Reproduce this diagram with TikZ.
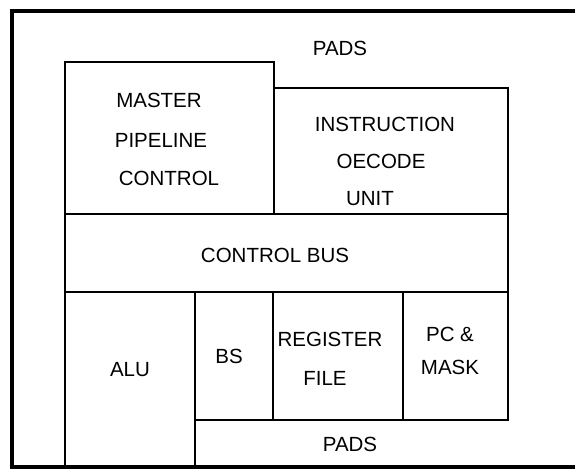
\documentclass[tikz,border=0pt]{standalone}
\usepackage{fontspec}
\setmainfont{Liberation Sans}
\begin{document}
\begin{tikzpicture}[x=1pt,y=-1pt,
  blk/.style={draw,line width=1.8pt,anchor=north west,inner sep=0pt,outer sep=0pt},
  lbl/.style={inner sep=0pt,font=\fontsize{20.5}{22}\selectfont}]
\useasboundingbox (0,0) rectangle (575,474);
% outer border (open on the right)
\coordinate (tr) at (575,11);
\coordinate (tl) at (12,11);
\coordinate (bl) at (12,467);
\coordinate (br) at (575,467);
\draw[line width=3.5pt] (tr) -- (tl) -- (bl) -- (br);
% blocks
\node[blk,minimum width=209pt,minimum height=152pt] (mpc) at (65,62) {};
\node[blk,minimum width=234pt,minimum height=126pt] (idu) at (274,88) {};
\node[blk,minimum width=443pt,minimum height=78pt] (cbus) at (65,214) {};
\node[blk,minimum width=130pt,minimum height=175pt] (alu) at (65,292) {};
\node[blk,minimum width=78pt,minimum height=128pt] (bs) at (195,292) {};
\node[blk,minimum width=130pt,minimum height=128pt] (rf) at (273,292) {};
\node[blk,minimum width=105pt,minimum height=128pt] (pc) at (403,292) {};
% labels
\node[lbl] (padsT) at (340,48) {PADS};
\node[lbl] (t1) at (159,100) {MASTER};
\node[lbl] (t2) at (161,140) {PIPELINE};
\node[lbl] (t3) at (169,178) {CONTROL};
\node[lbl] (t4) at (385,124) {INSTRUCTION};
\node[lbl] (t5) at (381,161) {OECODE};
\node[lbl] (t6) at (370,199) {UNIT};
\node[lbl] (t7) at (275,255) {CONTROL BUS};
\node[lbl] (t8) at (130,370) {ALU};
\node[lbl] (t9) at (229,356) {BS};
\node[lbl] (t10) at (330,339) {REGISTER};
\node[lbl] (t11) at (325,378) {FILE};
\node[lbl] (t12) at (450,334) {PC \&};
\node[lbl] (t13) at (450,367) {MASK};
\node[lbl] (padsB) at (350,444) {PADS};
\end{tikzpicture}
\end{document}
